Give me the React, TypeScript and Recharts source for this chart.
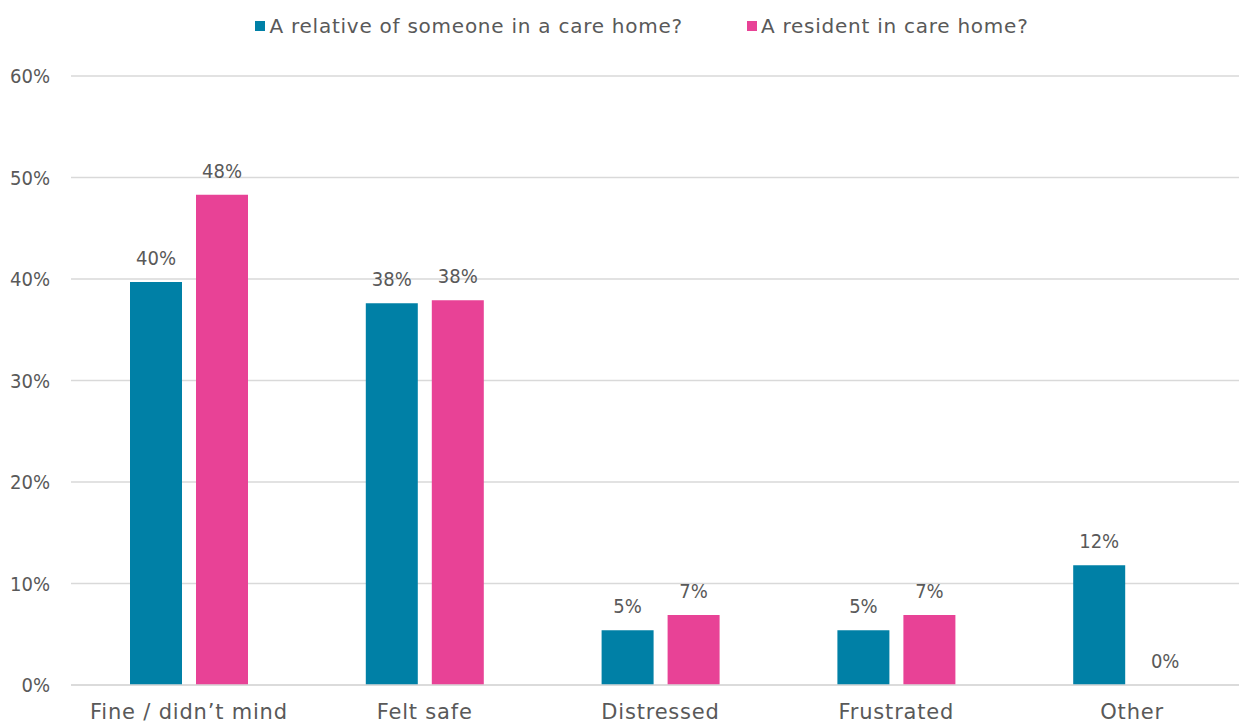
import React from 'react';
import { BarChart, Bar, XAxis, YAxis, CartesianGrid, Legend, LabelList } from 'recharts';

const categories = ['Fine / didn\u2019t mind', 'Felt safe', 'Distressed', 'Frustrated', 'Other'];
const relativeValues = [39.7, 37.6, 5.4, 5.4, 11.8];
const residentValues = [48.3, 37.9, 6.9, 6.9, 0];
const relativeLabels = ['40%', '38%', '5%', '5%', '12%'];
const residentLabels = ['48%', '38%', '7%', '7%', '0%'];
const yTicks = [0, 10, 20, 30, 40, 50, 60];

const data = categories.map((c, i) => ({
  name: c,
  relative: relativeValues[i],
  resident: residentValues[i],
  relLabel: relativeLabels[i],
  resLabel: residentLabels[i],
}));

const NUMFONT = '"DejaVu Sans Condensed", "DejaVu Sans", sans-serif';
const FONT = '"DejaVu Sans", sans-serif';
const TEXT = '#595959';
const TEAL = '#0080A6';
const PINK = '#E84296';

const LegendContent = () => (
  <div style={{ display: 'flex', justifyContent: 'center', fontFamily: FONT, fontSize: 20, color: TEXT, letterSpacing: 0.75, height: 24, lineHeight: '24px', paddingLeft: 34 }}>
    {[
      { c: TEAL, t: 'A relative of someone in a care home?' },
      { c: PINK, t: 'A resident in care home?' },
    ].map((it, i) => (
      <div key={i} style={{ display: 'flex', alignItems: 'center', marginRight: i === 0 ? 64 : 0 }}>
        <span style={{ width: 10, height: 10, background: it.c, display: 'inline-block', marginRight: 4 }} />
        <span>{it.t}</span>
      </div>
    ))}
  </div>
);

export default function App() {
  return (
    <div style={{ position: 'absolute', left: 0, top: 0, width: 1239, height: 722, overflow: 'hidden', background: '#fff' }}>
      <BarChart
        width={1250}
        height={722}
        data={data}
        margin={{ top: 52, right: 0, bottom: 0, left: 0 }}
        barGap={14}
        barSize={52}
      >
        <CartesianGrid vertical={false} stroke="#d9d9d9" strokeWidth={1.5} />
        <XAxis
          dataKey="name"
          height={37}
          axisLine={{ stroke: '#d9d9d9', strokeWidth: 1.5 }}
          tickLine={false}
          tickSize={0}
          tickMargin={19}
          tick={{ fill: TEXT, fontSize: 21, fontFamily: FONT, letterSpacing: 0.8 }}
          interval={0}
        />
        <YAxis
          width={71}
          domain={[0, 60]}
          ticks={yTicks}
          tickFormatter={(v) => `${v}%`}
          axisLine={false}
          tickLine={false}
          tickSize={0}
          tickMargin={21}
          tick={{ fill: TEXT, fontSize: 20, fontFamily: NUMFONT }}
        />
        <Legend verticalAlign="top" content={<LegendContent />} wrapperStyle={{ top: 14 }} />
        <Bar dataKey="relative" fill={TEAL} isAnimationActive={false}>
          <LabelList dataKey="relLabel" position="top" offset={17} fill={TEXT} fontSize={20} fontFamily={NUMFONT} />
        </Bar>
        <Bar dataKey="resident" fill={PINK} isAnimationActive={false} minPointSize={0.01}>
          <LabelList dataKey="resLabel" position="top" offset={17} fill={TEXT} fontSize={20} fontFamily={NUMFONT} />
        </Bar>
      </BarChart>
    </div>
  );
}
